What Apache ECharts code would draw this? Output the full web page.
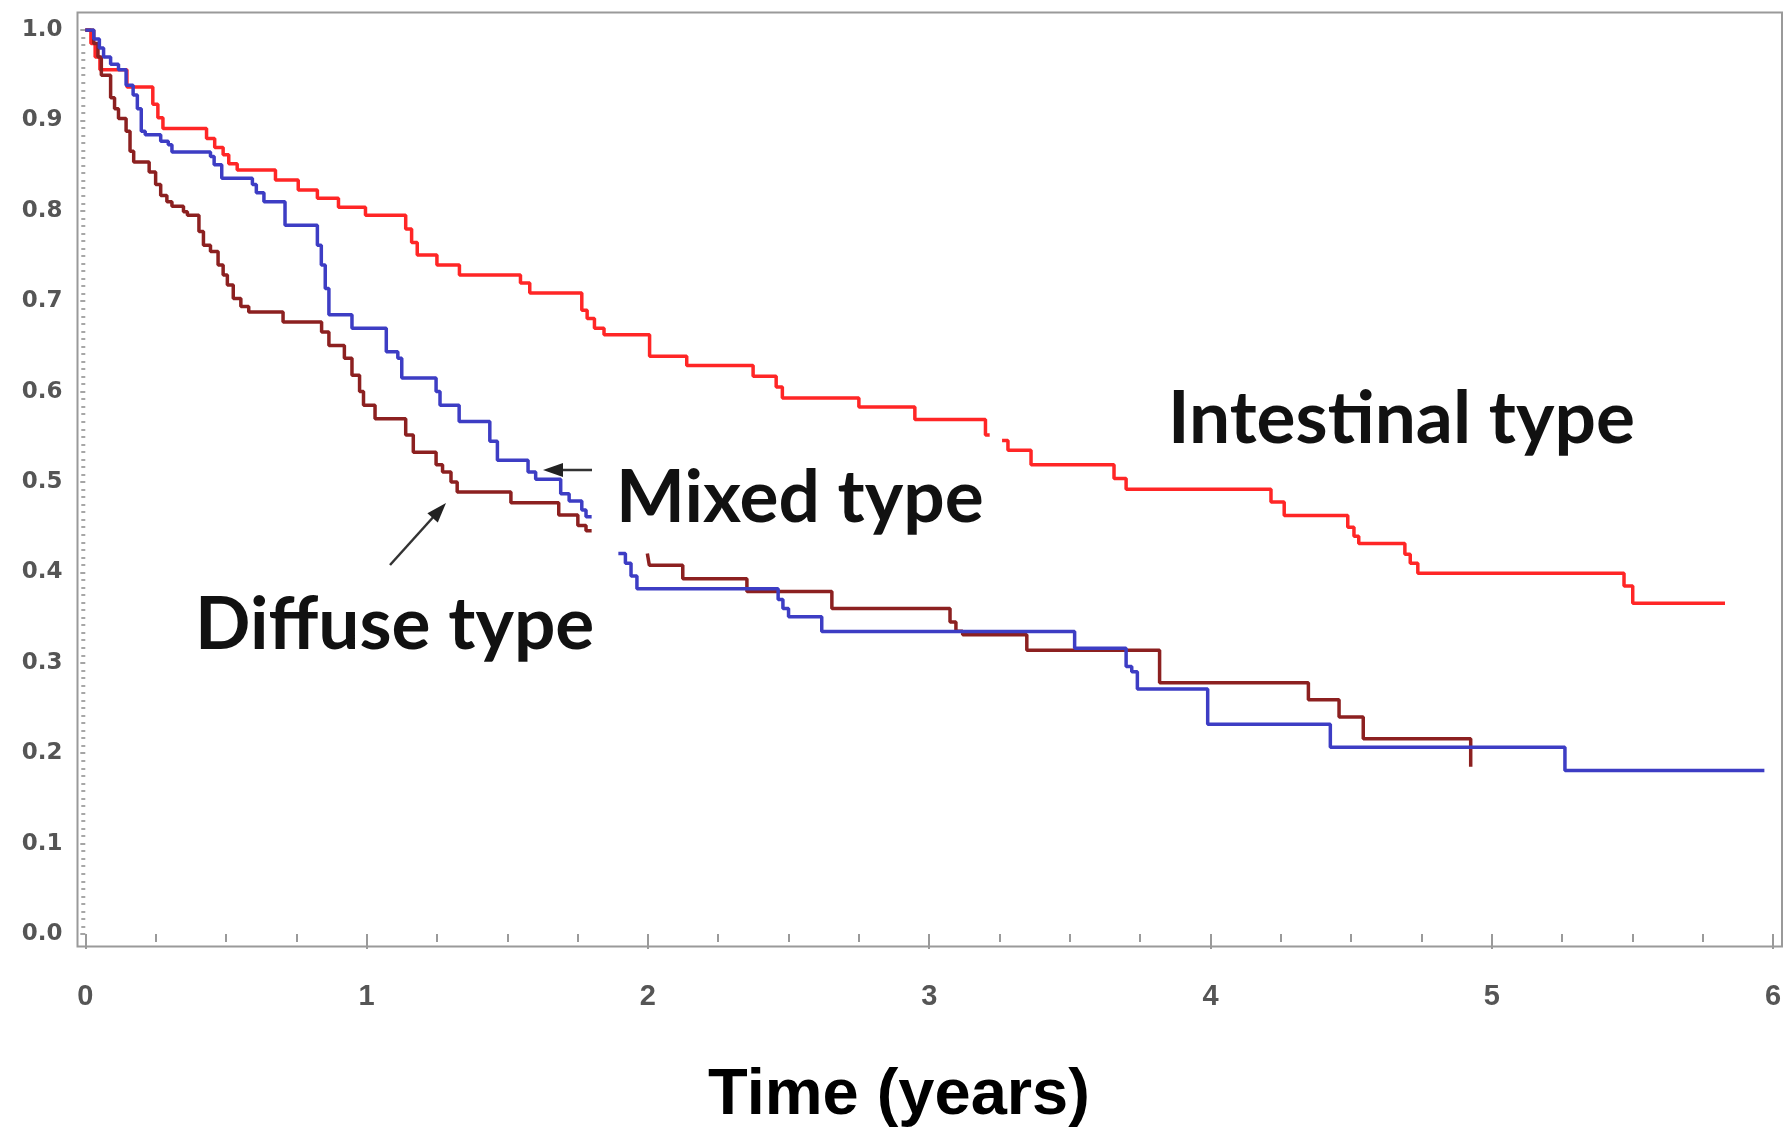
<!DOCTYPE html>
<html><head><meta charset="utf-8">
<script src="https://cdn.jsdelivr.net/npm/echarts@6/dist/echarts.min.js"></script>
<style>html,body{margin:0;padding:0;background:#fff}#c{width:1787px;height:1134px}</style>
</head><body><div id="c"></div>
<script>
// ---- data (time in years, survival probability) ----
const xTickValues = [0, 1, 2, 3, 4, 5, 6];
const yTickLabels = ['0.0','0.1','0.2','0.3','0.4','0.5','0.6','0.7','0.8','0.9','1.0'];

const intestinal = [
  [0,1.0],[0.02,0.985],[0.035,0.97],[0.052,0.956],[0.148,0.937],[0.24,0.918],[0.258,0.903],
  [0.276,0.891],[0.431,0.88],[0.46,0.87],[0.49,0.862],[0.51,0.852],[0.54,0.845],[0.676,0.834],
  [0.757,0.823],[0.825,0.814],[0.90,0.804],[0.996,0.795],[1.139,0.78],[1.16,0.765],[1.18,0.751],
  [1.25,0.74],[1.33,0.729],[1.547,0.72],[1.58,0.709],[1.765,0.69],[1.784,0.681],[1.81,0.67],
  [1.844,0.663],[2.006,0.639],[2.138,0.629],[2.374,0.617],[2.456,0.605],[2.478,0.593],[2.75,0.583],
  [2.949,0.569],[3.2,0.552],[3.215,0.552],[3.215,null],[3.259,0.546],[3.28,0.535],[3.362,0.519],
  [3.657,0.504],[3.70,0.492],[4.215,0.478],[4.262,0.463],[4.488,0.45],[4.51,0.44],[4.527,0.432],
  [4.691,0.42],[4.71,0.41],[4.737,0.399],[5.47,0.385],[5.501,0.366],[5.829,0.366]
];

const mixed = [
  [0,1.0],[0.03,0.99],[0.05,0.98],[0.065,0.97],[0.09,0.962],[0.118,0.956],[0.145,0.939],[0.17,0.928],
  [0.185,0.913],[0.199,0.888],[0.213,0.884],[0.268,0.877],[0.295,0.873],[0.308,0.865],[0.445,0.86],
  [0.458,0.851],[0.485,0.836],[0.594,0.829],[0.608,0.82],[0.635,0.81],[0.71,0.784],[0.825,0.762],
  [0.839,0.74],[0.853,0.714],[0.866,0.685],[0.948,0.67],[1.07,0.644],[1.111,0.637],[1.125,0.615],
  [1.247,0.60],[1.261,0.585],[1.329,0.567],[1.438,0.545],[1.465,0.524],[1.574,0.511],[1.601,0.503],
  [1.69,0.487],[1.72,0.479],[1.765,0.469],[1.78,0.4616],[1.80,0.4616],[1.80,null],
  [1.895,0.421],[1.92,0.41],[1.94,0.396],[1.961,0.382],[2.463,0.37],[2.48,0.36],[2.50,0.351],
  [2.618,0.3345],[3.517,0.316],[3.70,0.296],[3.72,0.29],[3.74,0.271],[3.99,0.232],[4.426,0.2065],
  [5.26,0.181],[5.969,0.181]
];

const diffuse = [
  [0,1.0],[0.03,0.985],[0.045,0.97],[0.057,0.95],[0.09,0.925],[0.104,0.913],[0.118,0.902],[0.145,0.888],
  [0.159,0.866],[0.172,0.854],[0.227,0.843],[0.25,0.829],[0.268,0.817],[0.29,0.81],[0.308,0.805],
  [0.349,0.799],[0.363,0.795],[0.404,0.777],[0.42,0.762],[0.445,0.755],[0.472,0.74],[0.49,0.729],
  [0.505,0.718],[0.526,0.703],[0.553,0.694],[0.581,0.688],[0.703,0.677],[0.84,0.666],[0.866,0.651],
  [0.921,0.637],[0.948,0.618],[0.975,0.60],[0.989,0.585],[1.03,0.570],[1.139,0.552],[1.166,0.533],
  [1.247,0.519],[1.27,0.511],[1.30,0.50],[1.322,0.489],[1.513,0.477],[1.683,0.4636],[1.751,0.452],
  [1.78,0.446],[1.80,0.446],[1.80,null],
  [1.998,0.421],[2.005,0.408],[2.124,0.393],[2.352,0.379],[2.654,0.360],[3.074,0.345],[3.095,0.335],
  [3.119,0.331],[3.347,0.314],[3.819,0.278],[4.348,0.259],[4.457,0.240],[4.543,0.216],[4.925,0.185]
];

const seriesNames = ['Intestinal type', 'Mixed type', 'Diffuse type'];
const seriesColors = ['#ff2626', '#3d3dc4', '#8c2020'];

// ---- chart ----
const chart = echarts.init(document.getElementById('c'), null, {renderer: 'canvas'});
const axisGray = '#9a9a9a';
const labelFont = 'Liberation Sans, Arial, sans-serif';
const annFont = 'Lato, "Open Sans", sans-serif';

function arrowHead(tip, from, len, half) {
  const dx = tip[0] - from[0], dy = tip[1] - from[1];
  const L = Math.sqrt(dx*dx + dy*dy);
  const ux = dx / L, uy = dy / L;
  const bx = tip[0] - ux*len, by = tip[1] - uy*len;
  return [[tip[0], tip[1]], [bx - uy*half, by + ux*half], [bx + uy*half, by - ux*half]];
}

const mixedArrowFrom = [592, 470], mixedArrowTip = [543, 470];
const diffArrowFrom = [390, 565], diffArrowTip = [446, 503];

chart.setOption({
  animation: false,
  backgroundColor: '#ffffff',
  grid: [
    {left: 85.3, right: 13.9, top: 30, bottom: 200, show: false},
    {left: 77.5, right: 5, top: 12.5, bottom: 187.5, show: true, borderColor: axisGray, borderWidth: 2, backgroundColor: 'transparent'}
  ],
  xAxis: [
    {
      type: 'value', gridIndex: 0, min: 0, max: 6, interval: 1, offset: 12.5,
      axisLine: {show: false},
      axisTick: {show: true, length: 15, lineStyle: {color: axisGray, width: 2}},
      minorTick: {show: true, splitNumber: 4, length: 8, lineStyle: {color: axisGray, width: 2}},
      splitLine: {show: false},
      axisLabel: {
        margin: 36, fontSize: 29, fontWeight: 'bold', color: '#555', fontFamily: '"Liberation Sans Narrow", "Liberation Sans", sans-serif',
        formatter: v => (xTickValues.indexOf(Math.round(v)) >= 0 ? String(Math.round(v)) : '')
      }
    },
    {type: 'value', gridIndex: 1, show: false, min: 0, max: 1}
  ],
  yAxis: [
    {
      type: 'value', gridIndex: 0, min: 0, max: 1, interval: 0.1, offset: 7.8,
      axisLine: {show: false},
      axisTick: {show: true, length: 5, lineStyle: {color: '#888', width: 1.5}},
      minorTick: {show: true, splitNumber: 12, length: 4, lineStyle: {color: '#8a8a8a', width: 1.5}},
      splitLine: {show: false},
      axisLabel: {
        margin: 15, fontSize: 23, fontWeight: 'bold', color: '#555', fontFamily: '"DejaVu Sans", sans-serif',
        formatter: v => yTickLabels[Math.round(v * 10)]
      }
    },
    {type: 'value', gridIndex: 1, show: false, min: 0, max: 1}
  ],
  series: [
    {name: seriesNames[0], type: 'line', step: 'end', data: intestinal, symbol: 'none', connectNulls: false,
     lineStyle: {color: seriesColors[0], width: 3.5}, z: 3},
    {name: seriesNames[2], type: 'line', step: 'end', data: diffuse, symbol: 'none', connectNulls: false,
     lineStyle: {color: seriesColors[2], width: 3.5}, z: 4},
    {name: seriesNames[1], type: 'line', step: 'end', data: mixed, symbol: 'none', connectNulls: false,
     lineStyle: {color: seriesColors[1], width: 3.5}, z: 5}
  ],
  graphic: [
    {type: 'text', left: 1168, top: 383, style: {text: 'Intestinal type', font: 'bold 73px ' + annFont, fill: '#111'}},
    {type: 'text', left: 616, top: 462, style: {text: 'Mixed type', font: 'bold 73px ' + annFont, fill: '#111'}},
    {type: 'text', left: 195, top: 589, style: {text: 'Diffuse type', font: 'bold 73px ' + annFont, fill: '#111'}},
    {type: 'text', x: 899, y: 1096, style: {text: 'Time (years)', font: 'bold 65px ' + labelFont, fill: '#000', align: 'center', verticalAlign: 'middle'}},
    {type: 'line', shape: {x1: mixedArrowFrom[0], y1: mixedArrowFrom[1], x2: mixedArrowTip[0] + 15, y2: mixedArrowTip[1]},
     style: {stroke: '#333', lineWidth: 2.5}},
    {type: 'polygon', shape: {points: arrowHead(mixedArrowTip, mixedArrowFrom, 20, 7)}, style: {fill: '#222'}},
    {type: 'line', shape: {x1: diffArrowFrom[0], y1: diffArrowFrom[1], x2: diffArrowTip[0] - 10, y2: diffArrowTip[1] + 11},
     style: {stroke: '#333', lineWidth: 2.5}},
    {type: 'polygon', shape: {points: arrowHead(diffArrowTip, diffArrowFrom, 20, 7)}, style: {fill: '#222'}}
  ]
});
</script>
</body></html>
